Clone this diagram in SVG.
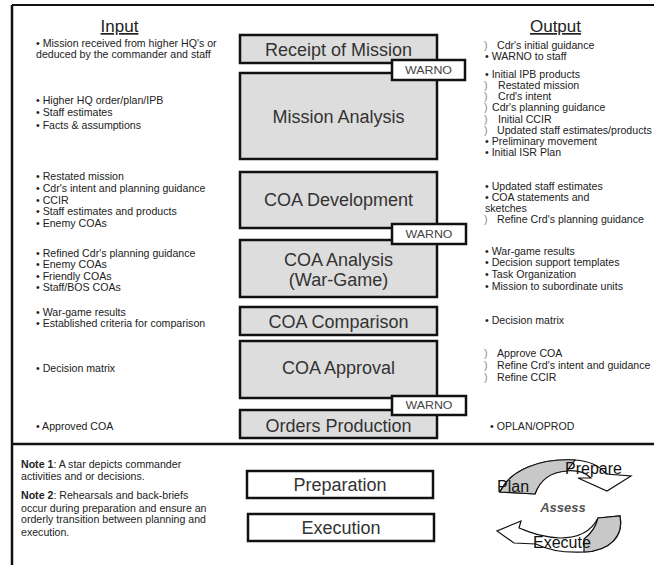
<svg xmlns="http://www.w3.org/2000/svg" width="654" height="565" viewBox="0 0 654 565">
<style>
  .t{font-family:"Liberation Sans",Arial,sans-serif;font-size:10.6px;fill:#222}
  .h{font-family:"Liberation Sans",Arial,sans-serif;font-size:17px;fill:#222;text-anchor:middle;text-decoration:underline}
  .box{fill:#dddddd;stroke:#111;stroke-width:2.5}
  .wbox{fill:#fff;stroke:#111;stroke-width:2.5}
  .bl{font-family:"Liberation Sans",Arial,sans-serif;font-size:18px;fill:#333;text-anchor:middle}
  .w{font-family:"Liberation Sans",Arial,sans-serif;font-size:10px;fill:#444;text-anchor:middle}
  .st{font-family:"Liberation Sans",Arial,sans-serif;font-size:10.6px;fill:#888}
  .cy{font-family:"Liberation Sans",Arial,sans-serif;font-size:16px;fill:#111}
  .frame{stroke:#111;fill:none}
</style>
<rect x="0" y="0" width="654" height="565" fill="#fff"/>
<g id="frame">
  <line class="frame" x1="12" y1="5" x2="654" y2="5" stroke-width="2"/>
  <line class="frame" x1="12" y1="5" x2="12" y2="565" stroke-width="2.5"/>
  <line class="frame" x1="12" y1="444" x2="654" y2="444" stroke-width="2.5"/>
</g>
<g id="headers">
  <text class="h" x="119.5" y="32">Input</text>
  <text class="h" x="555.5" y="32">Output</text>
</g>
<g id="input">
  <text class="t" x="36" y="47">• Mission received from higher HQ's or</text>
  <text class="t" x="36" y="58">deduced by the commander and staff</text>
  <text class="t" x="36" y="104">• Higher HQ order/plan/IPB</text>
  <text class="t" x="36" y="116">• Staff estimates</text>
  <text class="t" x="36" y="128.5">• Facts  &amp; assumptions</text>
  <text class="t" x="36" y="179.5">• Restated mission</text>
  <text class="t" x="36" y="191.5">• Cdr's intent and planning guidance</text>
  <text class="t" x="36" y="203.5">• CCIR</text>
  <text class="t" x="36" y="214.5">• Staff estimates and products</text>
  <text class="t" x="36" y="226.5">• Enemy COAs</text>
  <text class="t" x="36" y="256.5">• Refined Cdr's planning guidance</text>
  <text class="t" x="36" y="267.5">• Enemy COAs</text>
  <text class="t" x="36" y="279.5">• Friendly COAs</text>
  <text class="t" x="36" y="290.5">• Staff/BOS COAs</text>
  <text class="t" x="36" y="315.5">• War-game results</text>
  <text class="t" x="36" y="326.5">• Established criteria for comparison</text>
  <text class="t" x="36" y="371.5">• Decision matrix</text>
  <text class="t" x="36" y="429.5">• Approved COA</text>
</g>
<g id="output">
  <text class="st" x="484" y="48.5">)</text><text class="t" x="497" y="48.5">Cdr's initial guidance</text>
  <text class="t" x="485" y="59.5">• WARNO to staff</text>
  <text class="t" x="485" y="77.5">• Initial IPB products</text>
  <text class="st" x="484" y="88.5">)</text><text class="t" x="498" y="88.5">Restated mission</text>
  <text class="st" x="484" y="99.5">)</text><text class="t" x="498" y="99.5">Crd's intent</text>
  <text class="st" x="484" y="111">)</text><text class="t" x="492" y="111">Cdr's planning guidance</text>
  <text class="st" x="484" y="122.5">)</text><text class="t" x="498" y="122.5">Initial CCIR</text>
  <text class="st" x="484" y="133.5">)</text><text class="t" x="497" y="133.5">Updated staff estimates/products</text>
  <text class="t" x="485" y="144.5">• Preliminary movement</text>
  <text class="t" x="485" y="155.5">• Initial ISR Plan</text>
  <text class="t" x="485" y="189.5">• Updated staff estimates</text>
  <text class="t" x="485" y="200.5">• COA statements and</text>
  <text class="t" x="485" y="211.5">sketches</text>
  <text class="st" x="484" y="222.5">)</text><text class="t" x="497" y="222.5">Refine Crd's planning guidance</text>
  <text class="t" x="485" y="254.5">• War-game results</text>
  <text class="t" x="485" y="266">• Decision support templates</text>
  <text class="t" x="485" y="277.5">• Task Organization</text>
  <text class="t" x="485" y="289.5">• Mission to subordinate units</text>
  <text class="t" x="485" y="323.5">• Decision matrix</text>
  <text class="st" x="484" y="356.5">)</text><text class="t" x="497" y="356.5">Approve COA</text>
  <text class="st" x="484" y="369">)</text><text class="t" x="497" y="369">Refine Crd's intent and guidance</text>
  <text class="st" x="484" y="380.5">)</text><text class="t" x="497" y="380.5">Refine CCIR</text>
  <text class="t" x="490" y="429.5">• OPLAN/OPROD</text>
</g>
<g id="receipt"><rect class="box" x="240" y="35" width="197" height="28"/><text class="bl" x="338.5" y="55.5">Receipt of Mission</text></g>
<g id="mission-analysis"><rect class="box" x="240" y="73" width="197" height="86"/><text class="bl" x="338.5" y="122.5">Mission Analysis</text></g>
<g id="coa-development"><rect class="box" x="240" y="172" width="197" height="56"/><text class="bl" x="338.5" y="206">COA Development</text></g>
<g id="coa-analysis"><rect class="box" x="240" y="240" width="197" height="57"/><text class="bl" x="338.5" y="266">COA Analysis</text><text class="bl" x="338.5" y="286">(War-Game)</text></g>
<g id="coa-comparison"><rect class="box" x="240" y="307" width="197" height="28"/><text class="bl" x="338.5" y="327.5">COA Comparison</text></g>
<g id="coa-approval"><rect class="box" x="240" y="341" width="197" height="57"/><text class="bl" x="338.5" y="374">COA Approval</text></g>
<g id="orders-production"><rect class="box" x="240" y="410" width="197" height="28"/><text class="bl" x="338.5" y="431.5">Orders Production</text></g>
<g id="warno1"><rect class="wbox" x="392" y="60" width="73" height="20"/><text class="w" x="428.5" y="73.5" textLength="47" lengthAdjust="spacingAndGlyphs">WARNO</text></g>
<g id="warno2"><rect class="wbox" x="392" y="224" width="74" height="20"/><text class="w" x="429" y="237.5" textLength="47" lengthAdjust="spacingAndGlyphs">WARNO</text></g>
<g id="warno3"><rect class="wbox" x="392" y="396" width="74" height="19"/><text class="w" x="429" y="409" textLength="47" lengthAdjust="spacingAndGlyphs">WARNO</text></g>
<g id="notes">
  <text class="t" x="21" y="467.5"><tspan font-weight="bold">Note 1</tspan>: A star depicts commander</text>
  <text class="t" x="21" y="479.5">activities and or decisions.</text>
  <text class="t" x="21" y="498.5"><tspan font-weight="bold">Note 2</tspan>: Rehearsals and back-briefs</text>
  <text class="t" x="21" y="511.5">occur during preparation and ensure an</text>
  <text class="t" x="21" y="522.5">orderly transition between planning and</text>
  <text class="t" x="21" y="535.5">execution.</text>
</g>
<g id="preparation"><rect class="wbox" x="247" y="471" width="186" height="27"/><text class="bl" x="340" y="490.5">Preparation</text></g>
<g id="execution"><rect class="wbox" x="248" y="514" width="186" height="27"/><text class="bl" x="341" y="533.5">Execution</text></g>
<g id="cycle">
  <path d="M500,492 C510,470 540,458 575,460 C590,461 600,466 606,474 L631,476 L607,491 L578,478 L591,478 C585,472 575,470 565,471 C550,472 540,480 535,494 Z" fill="#fff" stroke="#111" stroke-width="1.2"/>
  <path d="M500,492 C510,470 540,458 575,460 L567,471 C550,472 540,480 535,494 Z" fill="#c8c8c8" stroke="#111" stroke-width="1.2"/>
  <path d="M598,518 L620,516 C624,536 610,551 584,552 C565,553 548,550 536,544 L514,543 L497,531 L521,521 L519,528 C530,532 540,537 560,538 C580,538 592,530 598,518 Z" fill="#fff" stroke="#111" stroke-width="1.2"/>
  <path d="M598,518 L620,516 C624,536 610,551 584,552 L584,539 C592,533 596,526 598,518 Z" fill="#c8c8c8" stroke="#111" stroke-width="1.2"/>
  <text class="cy" x="565" y="474">Prepare</text>
  <text class="cy" x="497" y="492">Plan</text>
  <text x="563" y="512" text-anchor="middle" font-family="Liberation Sans, Arial, sans-serif" font-size="13" font-style="italic" font-weight="bold" fill="#555">Assess</text>
  <text class="cy" x="533" y="548">Execute</text>
</g>
</svg>
